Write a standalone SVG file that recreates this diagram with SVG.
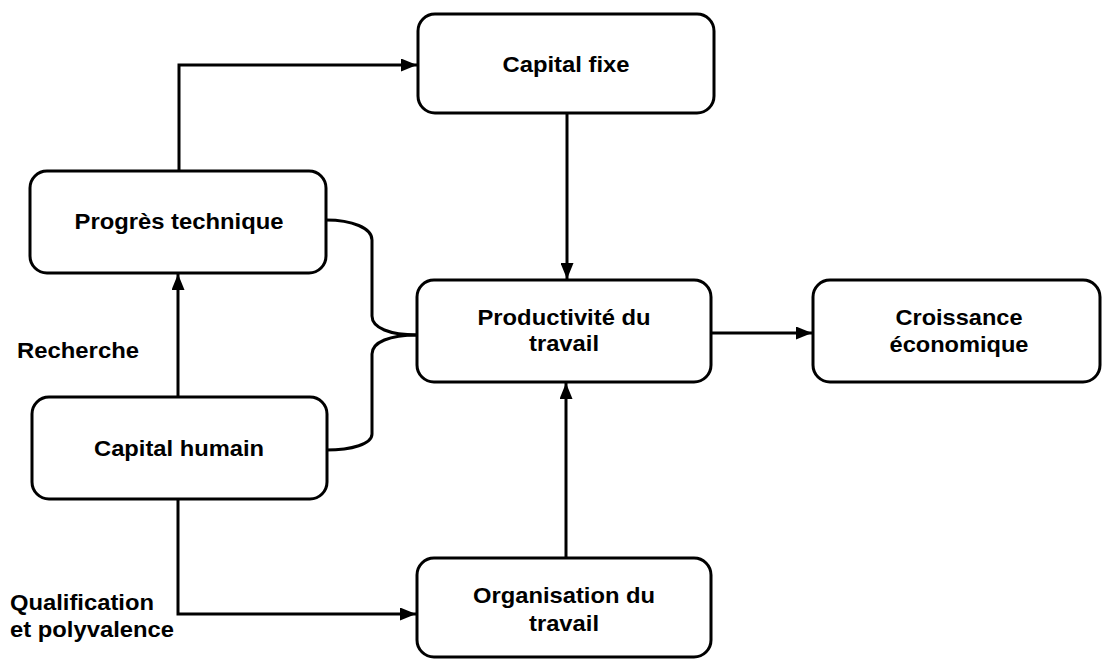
<svg xmlns="http://www.w3.org/2000/svg" width="1103" height="659" viewBox="0 0 1103 659">
<style>
.box{fill:#fff;stroke:#000;stroke-width:3}
.t{font-family:"Liberation Sans",Arial,sans-serif;font-weight:bold;font-size:22px;fill:#000}
.c{text-anchor:middle}
.ln{fill:none;stroke:#000;stroke-width:3}
</style>
<defs>
<marker id="ah" viewBox="0 0 16 13" refX="16" refY="6.5" markerWidth="16" markerHeight="13" markerUnits="userSpaceOnUse" orient="auto">
<path d="M0,0 L16,6.5 L0,13 Z" fill="#000"/>
</marker>
</defs>
<rect width="1103" height="659" fill="#fff"/>
<g id="connectors">
<path class="ln" d="M179,171 V65 H417" marker-end="url(#ah)"/>
<path class="ln" d="M567,114 V279" marker-end="url(#ah)"/>
<path class="ln" d="M178,397 V274" marker-end="url(#ah)"/>
<path class="ln" d="M178,499 V614 H416" marker-end="url(#ah)"/>
<path class="ln" d="M566,558 V383" marker-end="url(#ah)"/>
<path class="ln" d="M711,333 H812" marker-end="url(#ah)"/>
<path class="ln" d="M326,220 C352,220 372,228 372,240 V316 C372,328 390,335 417,335"/>
<path class="ln" d="M417,335 C390,335 372,342 372,354 V434 C372,444 352,450 326,450"/>
</g>
<g id="capital-fixe">
<rect class="box" x="418" y="14" width="296" height="99" rx="17"/>
<text class="t c" x="566" y="72" textLength="127" lengthAdjust="spacingAndGlyphs">Capital fixe</text>
</g>
<g id="progres-technique">
<rect class="box" x="30" y="171" width="296" height="102" rx="17"/>
<text class="t c" x="179" y="229" textLength="209" lengthAdjust="spacingAndGlyphs">Progrès technique</text>
</g>
<g id="productivite">
<rect class="box" x="417" y="280" width="294" height="102" rx="17"/>
<text class="t c" x="564" y="325" textLength="173" lengthAdjust="spacingAndGlyphs">Productivité du</text>
<text class="t c" x="564" y="351" textLength="70" lengthAdjust="spacingAndGlyphs">travail</text>
</g>
<g id="croissance">
<rect class="box" x="813" y="280" width="287" height="102" rx="17"/>
<text class="t c" x="959" y="325" textLength="127" lengthAdjust="spacingAndGlyphs">Croissance</text>
<text class="t c" x="959" y="352" textLength="139" lengthAdjust="spacingAndGlyphs">économique</text>
</g>
<g id="capital-humain">
<rect class="box" x="32" y="397" width="295" height="102" rx="17"/>
<text class="t c" x="179" y="456" textLength="170" lengthAdjust="spacingAndGlyphs">Capital humain</text>
</g>
<g id="organisation">
<rect class="box" x="417" y="558" width="294" height="99" rx="17"/>
<text class="t c" x="564" y="603" textLength="182" lengthAdjust="spacingAndGlyphs">Organisation du</text>
<text class="t c" x="564" y="631" textLength="70" lengthAdjust="spacingAndGlyphs">travail</text>
</g>
<g id="labels">
<text class="t" x="17" y="358" textLength="122" lengthAdjust="spacingAndGlyphs">Recherche</text>
<text class="t" x="10" y="610" textLength="144" lengthAdjust="spacingAndGlyphs">Qualification</text>
<text class="t" x="10" y="637" textLength="164" lengthAdjust="spacingAndGlyphs">et polyvalence</text>
</g>
</svg>
